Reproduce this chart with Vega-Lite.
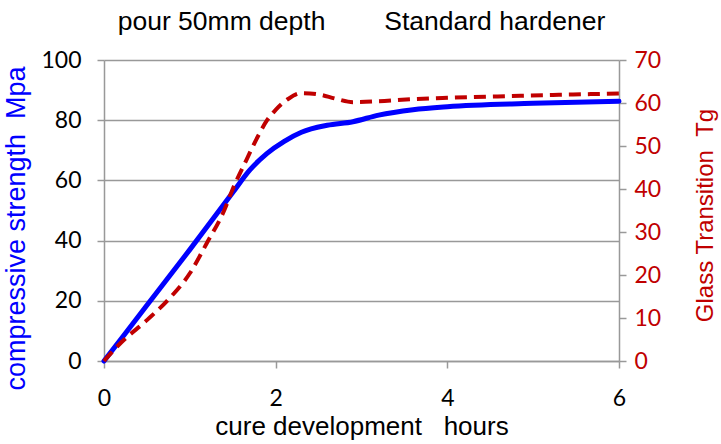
{
  "$schema": "https://vega.github.io/schema/vega-lite/v6.json",
  "width": 515,
  "height": 301,
  "autosize": {"type": "none"},
  "padding": {"left": 104, "top": 60, "right": 102, "bottom": 83},
  "background": "white",
  "title": {
    "text": "\u00a0pour 50mm depth\u00a0\u00a0\u00a0\u00a0\u00a0\u00a0\u00a0\u00a0Standard hardener",
    "font": "Liberation Sans",
    "fontSize": 26.5,
    "fontWeight": "normal",
    "color": "black",
    "anchor": "middle",
    "frame": "group",
    "baseline": "alphabetic",
    "offset": -7
  },
  "config": {
    "view": {"stroke": null},
    "axis": {
      "domainColor": "#999999",
      "domainWidth": 1.5,
      "tickColor": "#999999",
      "tickWidth": 1.5,
      "tickSize": 7,
      "gridColor": "#999999",
      "gridWidth": 1.5,
      "labelFont": "Lato",
      "labelFontSize": 23,
      "labelColor": "black",
      "labelFlush": false,
      "titleFont": "Liberation Sans",
      "titleFontSize": 26,
      "titleFontWeight": "normal"
    }
  },
  "datasets": {
    "strength": [
      {"h": 0, "v": 0},
      {"h": 0.5, "v": 18.5},
      {"h": 1.0, "v": 37},
      {"h": 1.5, "v": 56},
      {"h": 1.7, "v": 63.5},
      {"h": 1.9, "v": 69},
      {"h": 2.1, "v": 73},
      {"h": 2.3, "v": 76},
      {"h": 2.6, "v": 78.3},
      {"h": 2.9, "v": 79.5},
      {"h": 3.2, "v": 81.7},
      {"h": 3.6, "v": 83.5},
      {"h": 4.0, "v": 84.5},
      {"h": 5.0, "v": 85.6},
      {"h": 6.0, "v": 86.3}
    ],
    "tg": [
      {"h": 0, "t": 0},
      {"h": 0.2, "t": 4.3},
      {"h": 0.5, "t": 9.5},
      {"h": 0.75, "t": 14.3},
      {"h": 1.0, "t": 20.4},
      {"h": 1.2, "t": 27.5},
      {"h": 1.4, "t": 35},
      {"h": 1.5, "t": 40},
      {"h": 1.66, "t": 46.8},
      {"h": 1.8, "t": 52.5},
      {"h": 1.9, "t": 56},
      {"h": 2.0, "t": 58.4},
      {"h": 2.15, "t": 61},
      {"h": 2.3, "t": 62.3},
      {"h": 2.5, "t": 62},
      {"h": 2.7, "t": 61},
      {"h": 2.9, "t": 60.2},
      {"h": 3.2, "t": 60.4},
      {"h": 3.6, "t": 60.9},
      {"h": 4.0, "t": 61.2},
      {"h": 4.7, "t": 61.6},
      {"h": 5.3, "t": 61.9},
      {"h": 6.0, "t": 62.2}
    ]
  },
  "layer": [
    {
      "data": {"name": "strength"},
      "mark": {"type": "line", "color": "#0000FF", "strokeWidth": 5, "interpolate": "monotone", "strokeCap": "round"},
      "encoding": {
        "x": {
          "field": "h",
          "type": "quantitative",
          "scale": {"domain": [0, 6], "nice": false},
          "axis": {
            "values": [0, 2, 4, 6],
            "format": "d",
            "grid": false,
            "labelPadding": 19,
            "title": "cure development\u00a0\u00a0\u00a0hours",
            "titlePadding": 3
          }
        },
        "y": {
          "field": "v",
          "type": "quantitative",
          "scale": {"domain": [0, 100], "nice": false},
          "axis": {
            "values": [0, 20, 40, 60, 80, 100],
            "grid": true,
            "labelPadding": 16,
            "title": "compressive strength\u00a0\u00a0Mpa",
            "titleColor": "#0000FF",
            "titleFontSize": 27,
            "titleAngle": -90,
            "titleAlign": "center",
            "titleBaseline": "middle",
            "titleX": -88,
            "titleY": 168
          }
        }
      }
    },
    {
      "data": {"name": "tg"},
      "mark": {"type": "line", "color": "#C00000", "strokeWidth": 4, "strokeDash": [12, 7], "interpolate": "monotone"},
      "encoding": {
        "x": {"field": "h", "type": "quantitative"},
        "y": {
          "field": "t",
          "type": "quantitative",
          "scale": {"domain": [0, 70], "nice": false},
          "axis": {
            "orient": "right",
            "values": [0, 10, 20, 30, 40, 50, 60, 70],
            "grid": false,
            "labelColor": "#C00000",
            "labelPadding": 8,
            "title": "Glass Transition\u00a0\u00a0Tg",
            "titleColor": "#C00000",
            "titleFontSize": 24,
            "titleAngle": -90,
            "titleAlign": "center",
            "titleBaseline": "middle",
            "titleX": 86,
            "titleY": 155
          }
        }
      }
    }
  ],
  "resolve": {"scale": {"y": "independent"}}
}
